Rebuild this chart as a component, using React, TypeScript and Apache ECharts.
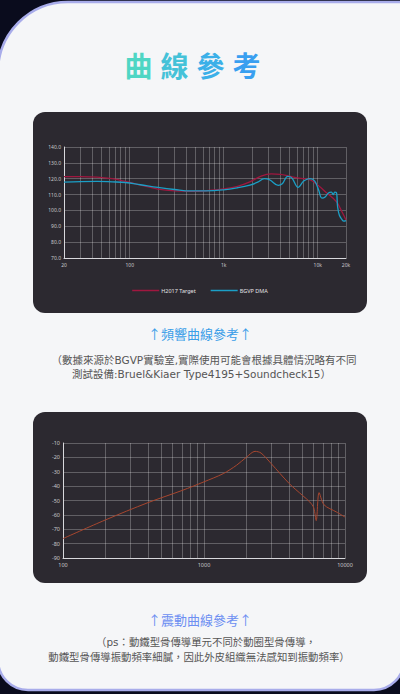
import * as echarts from 'echarts';
import { useEffect, useRef } from 'react';

// 頻響曲線 (frequency response)
const targetFreq = [20, 30, 45, 65, 90, 130, 200, 300, 450, 650, 1000, 1400, 1900, 2500, 3200, 4000, 5000, 6300, 8300, 10000, 12600, 15800, 18000, 20000];
const targetVal = [121.3, 121.3, 121.0, 120.0, 118.3, 116.0, 113.5, 112.3, 112.0, 112.4, 113.6, 115.2, 118.0, 121.6, 123.0, 122.8, 121.6, 120.4, 119.2, 116.0, 110.8, 105.5, 99.5, 94.0];

const dmaFreq = [20, 30, 45, 65, 90, 130, 200, 300, 450, 650, 1000, 1400, 1900, 2300, 2700, 3100, 3800, 4200, 4800, 5300, 6200, 7100, 8300, 9300, 10200, 11100, 12000, 13000, 14000, 14600, 15200, 15800, 16300, 17000, 18000, 19000, 20000];
const dmaVal = [117.8, 118.2, 118.3, 118.0, 117.6, 116.2, 114.5, 113.2, 112.3, 112.3, 113.0, 114.3, 116.0, 117.8, 120.0, 119.2, 115.8, 116.8, 121.5, 120.5, 114.5, 118.5, 120.0, 118.5, 113.0, 107.8, 108.5, 111.0, 111.5, 110.0, 111.5, 111.3, 102.0, 97.0, 94.5, 93.2, 93.5];

const frLegend = ['H2017 Target', 'BGVP DMA'];
const frMinorTicks = [30, 40, 50, 60, 70, 80, 90, 200, 300, 400, 500, 600, 700, 800, 900, 2000, 3000, 4000, 5000, 6000, 7000, 8000, 9000];

// 震動曲線 (vibration)
const vibFreq = [100, 200, 400, 700, 1000, 1370, 1700, 2010, 2300, 2540, 3000, 4030, 5000, 5620, 6000, 6250, 6550, 7100, 8700, 10000];
const vibVal = [-76.5, -63.5, -51.5, -43.0, -37.0, -31.3, -25.5, -19.7, -15.8, -17.0, -24.4, -38.3, -46.5, -51.0, -55.0, -64.0, -44.5, -53.0, -58.0, -61.5];
const vibMinorTicks = [200, 300, 400, 500, 600, 700, 800, 900, 2000, 3000, 4000, 5000, 6000, 7000, 8000, 9000];

const titleChars = ['曲', '線', '參', '考'];
const titleColors = ['#4fd6c4', '#45c2d8', '#3cb0e8', '#399ff0'];
const note1 = ['（數據來源於BGVP實驗室,實際使用可能會根據具體情況略有不同', '測試設備:Bruel&Kiaer Type4195+Soundcheck15）'];
const note2 = ['（ps：動鐵型骨傳導單元不同於動圈型骨傳導，', '動鐵型骨傳導振動頻率細膩，因此外皮組織無法感知到振動頻率）'];

const CJK = '"Noto Sans CJK TC", "Noto Sans", sans-serif';
const MIXED = '"DejaVu Sans", "Noto Sans CJK TC", sans-serif';
const LATIN = '"Noto Sans", Lato, sans-serif';
const gridColor = 'rgba(255,255,255,0.32)';
const axisColor = '#d8d8dc';

const zip = (xs: number[], ys: number[]) => xs.map((x, i) => [x, ys[i]]);

const minorLines = (ticks: number[]) => ({
  silent: true,
  z: 1,
  symbol: ['none', 'none'],
  label: { show: false },
  emphasis: { disabled: true },
  lineStyle: { color: gridColor, width: 0.8, type: 'solid' },
  data: ticks.map((v) => ({ xAxis: v })),
});

const text = (str: string, x: number, y: number, font: string, fill: string) => ({
  type: 'text',
  x,
  y,
  style: {
    text: str,
    font,
    fill,
    textAlign: 'center',
    align: 'center',
    textVerticalAlign: 'middle',
    verticalAlign: 'middle',
  },
});

export default function App() {
  const chartRef = useRef<HTMLDivElement>(null);

  useEffect(() => {
    document.body.style.margin = '0';
    if (!chartRef.current) return;
    const chart = echarts.init(chartRef.current, null, { renderer: 'svg' });

    const option = {
      animation: false,
      graphic: {
        elements: [
          { type: 'rect', z: -20, shape: { x: 0, y: 0, width: 400, height: 694 }, style: { fill: '#0a0c1d' } },
          {
            type: 'rect',
            z: -19,
            shape: { x: -2, y: 2, width: 406, height: 688, r: [70, 0, 30, 30] },
            style: { fill: '#f5f6f8', stroke: '#a8acea', lineWidth: 2.5 },
          },
          { type: 'rect', z: -18, shape: { x: 33, y: 112, width: 334, height: 201, r: 12 }, style: { fill: '#2c2930' } },
          { type: 'rect', z: -18, shape: { x: 33, y: 412, width: 334, height: 171, r: 12 }, style: { fill: '#2c2930' } },
          ...titleChars.map((c, i) => text(c, 138.5 + i * 36, 65, `bold 28px ${CJK}`, titleColors[i])),
          text('↑頻響曲線參考↑', 200, 333, `13px ${CJK}`, '#3a9ee8'),
          text(note1[0], 204, 360, `10.5px ${MIXED}`, '#555555'),
          text(note1[1], 201.5, 374, `10.5px ${MIXED}`, '#555555'),
          text('↑震動曲線參考↑', 200, 619, `13px ${CJK}`, '#6d8ff2'),
          text(note2[0], 206, 642, `10.4px ${MIXED}`, '#555555'),
          text(note2[1], 199, 657, `10.4px ${MIXED}`, '#555555'),
        ],
      },
      legend: {
        data: frLegend,
        left: 'center',
        top: 282.5,
        icon: 'rect',
        itemWidth: 27,
        itemHeight: 1.5,
        itemGap: 15,
        selectedMode: false,
        textStyle: { color: '#e2e2e6', fontSize: 5.5, fontFamily: LATIN, padding: [0, 0, 0, -3] },
      },
      grid: [
        { left: 64, top: 147, width: 282, height: 111 },
        { left: 63, top: 443, width: 282, height: 115 },
      ],
      xAxis: [
        {
          gridIndex: 0,
          type: 'log',
          logBase: 10,
          min: 20,
          max: 20000,
          axisLine: { show: true, lineStyle: { color: axisColor, width: 1 } },
          axisTick: { show: false },
          splitLine: { show: true, lineStyle: { color: gridColor, width: 0.8 } },
          axisLabel: {
            color: '#c8c8cc',
            fontSize: 5,
            fontFamily: LATIN,
            margin: 4,
            showMinLabel: true,
            showMaxLabel: true,
            formatter: (v: number) => {
              const r = Math.round(v);
              return r >= 1000 ? `${Math.round(r / 1000)}k` : `${r}`;
            },
          },
        },
        {
          gridIndex: 1,
          type: 'log',
          logBase: 10,
          min: 100,
          max: 10000,
          axisLine: { show: true, lineStyle: { color: axisColor, width: 1 } },
          axisTick: { show: false },
          splitLine: { show: true, lineStyle: { color: gridColor, width: 0.8 } },
          axisLabel: {
            color: '#c8c8cc',
            fontSize: 5.5,
            fontFamily: LATIN,
            margin: 4,
            formatter: (v: number) => `${Math.round(v)}`,
          },
        },
      ],
      yAxis: [
        {
          gridIndex: 0,
          type: 'value',
          min: 70,
          max: 140,
          interval: 10,
          axisLine: { show: true, lineStyle: { color: axisColor, width: 1 } },
          axisTick: { show: false },
          splitLine: { show: true, lineStyle: { color: gridColor, width: 0.8 } },
          axisLabel: { color: '#c8c8cc', fontSize: 5, fontFamily: LATIN, margin: 3, formatter: (v: number) => v.toFixed(1) },
        },
        {
          gridIndex: 1,
          type: 'value',
          min: -90,
          max: -10,
          interval: 10,
          axisLine: { show: true, lineStyle: { color: axisColor, width: 1 } },
          axisTick: { show: false },
          splitLine: { show: true, lineStyle: { color: gridColor, width: 0.8 } },
          axisLabel: { color: '#c8c8cc', fontSize: 5.5, fontFamily: LATIN, margin: 3 },
        },
      ],
      series: [
        {
          name: frLegend[0],
          type: 'line',
          xAxisIndex: 0,
          yAxisIndex: 0,
          data: zip(targetFreq, targetVal),
          smooth: 0.4,
          showSymbol: false,
          lineStyle: { color: '#a0173f', width: 1.3 },
          itemStyle: { color: '#a0173f' },
          markLine: minorLines(frMinorTicks),
        },
        {
          name: frLegend[1],
          type: 'line',
          xAxisIndex: 0,
          yAxisIndex: 0,
          data: zip(dmaFreq, dmaVal),
          smooth: 0.4,
          showSymbol: false,
          lineStyle: { color: '#1b9fc6', width: 1.3 },
          itemStyle: { color: '#1b9fc6' },
        },
        {
          name: '震動曲線',
          type: 'line',
          xAxisIndex: 1,
          yAxisIndex: 1,
          data: zip(vibFreq, vibVal),
          smooth: 0.3,
          showSymbol: false,
          lineStyle: { color: '#a8472f', width: 1 },
          itemStyle: { color: '#a8472f' },
          markLine: minorLines(vibMinorTicks),
        },
      ],
    };

    chart.setOption(option as any);

    return () => {
      chart.dispose();
    };
  }, []);

  return <div ref={chartRef} style={{ width: 400, height: 694 }} />;
}
